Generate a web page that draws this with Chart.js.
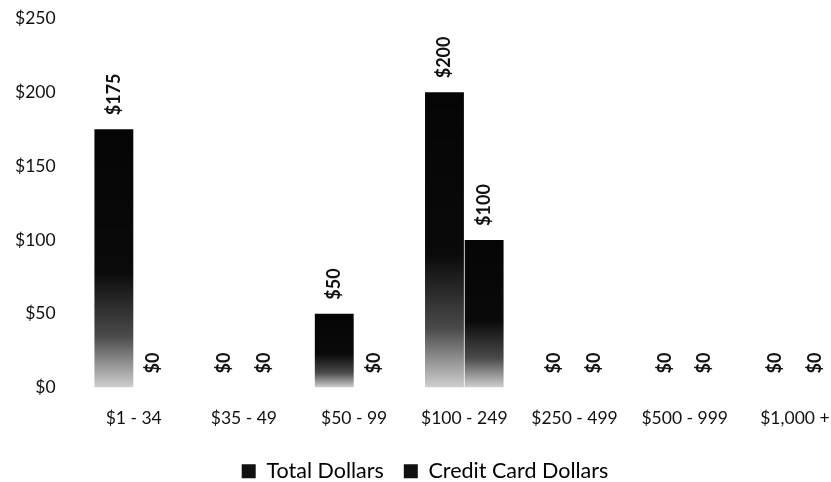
<!DOCTYPE html>
<html>
<head>
<meta charset="utf-8">
<script src="https://cdn.jsdelivr.net/npm/chart.js@4/dist/chart.umd.min.js"></script>
<style>
  html, body { margin: 0; padding: 0; background: #fff; overflow: hidden; }
  #wrap { width: 850px; height: 489px; margin-top: -7px; }
</style>
</head>
<body>
<div id="wrap"><canvas id="barChart"></canvas></div>
<script>
// bar chart

const labels = ['$1 - 34', '$35 - 49', '$50 - 99', '$100 - 249', '$250 - 499', '$500 - 999', '$1,000 +'];
const totalDollars = [175, 0, 50, 200, 0, 0, 0];
const creditCardDollars = [0, 0, 0, 100, 0, 0, 0];
const yTicks = [0, 50, 100, 150, 200, 250];

const font = 'Lato, "Open Sans", sans-serif';

// black bar fading to grey at the base, like the scanned original
function barFill(ctx) {
    const chart = ctx.chart;
    const y = chart.scales.y;
    if (!y || ctx.type !== 'data') return '#000';
    const top = y.getPixelForValue(ctx.raw);
    const base = y.getPixelForValue(0);
    if (base - top < 1) return '#000';
    const g = chart.ctx.createLinearGradient(0, top, 0, base);
    g.addColorStop(0, '#050505');
    g.addColorStop(0.55, '#0a0a0a');
    g.addColorStop(0.8, '#4a4a4a');
    g.addColorStop(1, '#cfcfcf');
    return g;
}

// vertical value labels above each bar
const valueLabels = {
    id: 'valueLabels',
    afterDatasetsDraw(chart) {
        const c = chart.ctx;
        c.save();
        c.fillStyle = '#111';
        c.font = 'bold 18px ' + font;
        c.textAlign = 'left';
        c.textBaseline = 'middle';
        chart.data.datasets.forEach((ds, i) => {
            chart.getDatasetMeta(i).data.forEach((bar, j) => {
                c.save();
                c.translate(bar.x, bar.y - 14);
                c.rotate(-Math.PI / 2);
                c.fillText('$' + ds.data[j], 0, 0);
                c.restore();
            });
        });
        c.restore();
    }
};

new Chart(document.querySelector('#barChart'), {
    type: 'bar',
    data: {
        labels: labels,
        datasets: [
            {
                label: 'Total Dollars',
                data: totalDollars,
                backgroundColor: barFill,
                borderWidth: 0
            },
            {
                label: 'Credit Card Dollars',
                data: creditCardDollars,
                backgroundColor: barFill,
                borderWidth: 0
            }
        ]
    },
    options: {
        responsive: true,
        maintainAspectRatio: false,
        animation: false,
        layout: { padding: { left: 0, top: -14, right: 0, bottom: -10 } },
        datasets: {
            bar: { categoryPercentage: 0.72, barPercentage: 0.98 }
        },
        scales: {
            x: {
                grid: { display: false },
                border: { display: false },
                ticks: { color: '#111', font: { family: font, size: 17.5 }, padding: 12, maxRotation: 0 }
            },
            y: {
                min: 0,
                max: 250,
                afterBuildTicks: (axis) => { axis.ticks = yTicks.map(v => ({ value: v })); },
                grid: { display: false },
                border: { display: false },
                ticks: {
                    color: '#111',
                    font: { family: font, size: 17.5 },
                    padding: 15,
                    callback: v => '$' + v
                }
            }
        },
        plugins: {
            legend: {
                position: 'bottom',
                labels: {
                    color: '#111',
                    font: { family: font, size: 21.5 },
                    boxWidth: 14,
                    boxHeight: 14,
                    padding: 20,
                    generateLabels: (chart) => chart.data.datasets.map((ds, i) => ({
                        text: ds.label,
                        fillStyle: '#111',
                        strokeStyle: '#111',
                        lineWidth: 0,
                        datasetIndex: i
                    }))
                }
            },
            tooltip: { enabled: false }
        }
    },
    plugins: [valueLabels]
});
</script>
</body>
</html>
